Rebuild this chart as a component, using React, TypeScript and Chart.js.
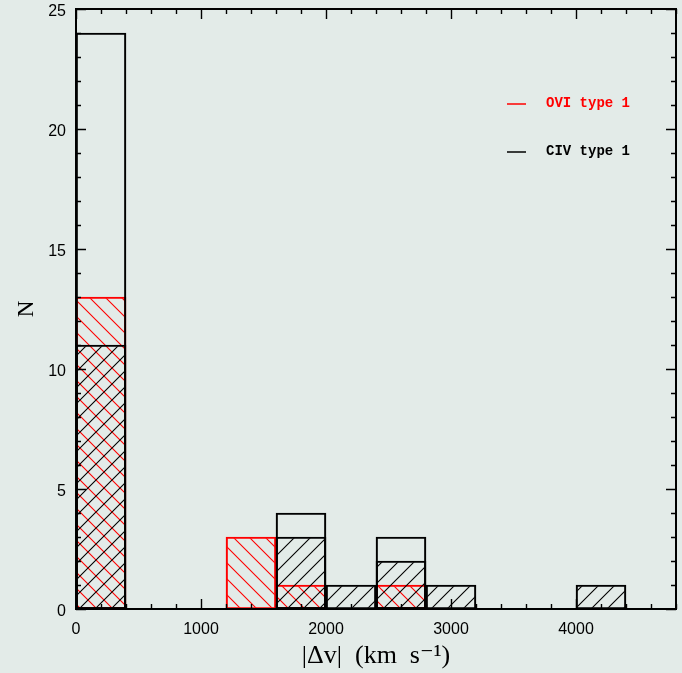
import React, { useEffect, useRef } from "react";
import { Chart, registerables } from "chart.js";

Chart.register(...registerables);

// Histogram bins (bin centres, km/s; bin width 400)
const civBins = [200, 1800, 2600];
const civCounts = [24, 4, 3];
const civHatchBins = [200, 1800, 2200, 2600, 3000, 4200];
const civHatchCounts = [11, 3, 1, 2, 1, 1];
const oviBins = [200, 1400, 1800, 2600];
const oviCounts = [13, 3, 1, 1];

const xTickValues = [0, 1000, 2000, 3000, 4000];
const yTickValues = [0, 5, 10, 15, 20, 25];
const legendLabels = ["OVI type 1", "CIV type 1"];
const legendColors = ["#ff0000", "#000000"];

const BG = "#e3ebe8";

function makeHatch(color: string, dir: "/" | "\\", size: number, lw: number) {
  const c = document.createElement("canvas");
  c.width = size;
  c.height = size;
  const g = c.getContext("2d")!;
  g.strokeStyle = color;
  g.lineWidth = lw;
  g.beginPath();
  if (dir === "/") {
    g.moveTo(-1, size + 1);
    g.lineTo(size + 1, -1);
    g.moveTo(-2, 2);
    g.lineTo(2, -2);
    g.moveTo(size - 2, size + 2);
    g.lineTo(size + 2, size - 2);
  } else {
    g.moveTo(-1, -1);
    g.lineTo(size + 1, size + 1);
    g.moveTo(-2, size - 2);
    g.lineTo(2, size + 2);
    g.moveTo(size - 2, -2);
    g.lineTo(size + 2, 2);
  }
  g.stroke();
  return g.createPattern(c, "repeat")!;
}

const axesPlugin = {
  id: "boxAxes",
  afterDatasetsDraw(chart: any) {
    const { ctx, chartArea, scales } = chart;
    const { left, right, top, bottom } = chartArea;
    const xs = scales.x;
    const ys = scales.y;
    ctx.save();
    ctx.strokeStyle = "#000";
    ctx.lineWidth = 1.4;
    ctx.beginPath();
    for (let v = 0; v <= 4800; v += 200) {
      const px = Math.round(xs.getPixelForValue(v)) + 0.5;
      const len = v % 1000 === 0 ? 10 : 5;
      ctx.moveTo(px, bottom);
      ctx.lineTo(px, bottom - len);
      ctx.moveTo(px, top);
      ctx.lineTo(px, top + len);
    }
    for (let v = 0; v <= 25; v += 1) {
      const py = Math.round(ys.getPixelForValue(v)) + 0.5;
      const len = v % 5 === 0 ? 10 : 5;
      ctx.moveTo(left, py);
      ctx.lineTo(left + len, py);
      ctx.moveTo(right, py);
      ctx.lineTo(right - len, py);
    }
    ctx.stroke();
    ctx.lineWidth = 2;
    ctx.strokeRect(left, top, right - left, bottom - top);
    // legend
    const lx0 = left + 431;
    const ly = [top + 94, top + 142];
    ctx.font = "bold 14px 'Liberation Mono', monospace";
    ctx.textBaseline = "middle";
    ctx.textAlign = "left";
    legendLabels.forEach((lab, i) => {
      ctx.strokeStyle = legendColors[i];
      ctx.lineWidth = 1.5;
      ctx.beginPath();
      ctx.moveTo(lx0, ly[i] + 1);
      ctx.lineTo(lx0 + 19, ly[i] + 1);
      ctx.stroke();
      ctx.fillStyle = legendColors[i];
      ctx.fillText(lab, lx0 + 39, ly[i]);
    });
    ctx.restore();
  },
};

export default function App() {
  const ref = useRef<HTMLCanvasElement>(null);
  useEffect(() => {
    document.body.style.background = BG;
    const redHatch = makeHatch("#ff0000", "\\", 16, 1.1);
    const blackHatch = makeHatch("#000000", "/", 16, 1.1);
    const toPts = (xs: number[], ys: number[]) => xs.map((x, i) => ({ x, y: ys[i] }));
    const barCommon = {
      borderWidth: 1.5,
      borderSkipped: false,
      grouped: false,
      barPercentage: 1,
      categoryPercentage: 1,
    };
    const chart = new Chart(ref.current!, {
      type: "bar",
      data: {
        datasets: [
          {
            label: "CIV type 1",
            data: toPts(civBins, civCounts),
            backgroundColor: "rgba(0,0,0,0)",
            borderColor: "#000",
            ...barCommon,
          } as any,
          {
            label: "CIV type 1 (hatched)",
            data: toPts(civHatchBins, civHatchCounts),
            backgroundColor: blackHatch,
            borderColor: "#000",
            ...barCommon,
          } as any,
          {
            label: "OVI type 1",
            data: toPts(oviBins, oviCounts),
            backgroundColor: redHatch,
            borderColor: "#ff0000",
            ...barCommon,
          } as any,
        ],
      },
      options: {
        animation: false,
        responsive: false,
        maintainAspectRatio: false,
        layout: { padding: { top: 9, right: 6, left: 0, bottom: 0 } },
        plugins: { legend: { display: false }, tooltip: { enabled: false } },
        scales: {
          x: {
            type: "linear",
            min: 0,
            max: 4800,
            offset: false,
            grid: { display: false, drawTicks: false },
            border: { display: false },
            afterFit: (s: any) => {
              s.height = 64;
              s.paddingLeft = 0;
              s.paddingRight = 0;
            },
            afterBuildTicks: (s: any) => {
              s.ticks = xTickValues.map((v) => ({ value: v }));
            },
            ticks: {
              padding: 11,
              color: "#000",
              font: { family: "'Liberation Sans', Arial, sans-serif", size: 16 },
              maxRotation: 0,
              callback: (v: any) => String(v),
            },
            title: {
              display: true,
              text: "|Δv|  (km  s⁻¹)",
              color: "#000",
              font: { family: "'Liberation Serif', 'DejaVu Serif', serif", size: 26 },
              padding: { top: 0, bottom: 1 },
            },
          },
          y: {
            type: "linear",
            min: 0,
            max: 25,
            grid: { display: false, drawTicks: false },
            border: { display: false },
            afterFit: (s: any) => {
              s.width = 76;
              s.paddingTop = 0;
              s.paddingBottom = 0;
            },
            afterBuildTicks: (s: any) => {
              s.ticks = yTickValues.map((v) => ({ value: v }));
            },
            ticks: {
              padding: 10,
              labelOffset: 3,
              color: "#000",
              font: { family: "'Liberation Sans', Arial, sans-serif", size: 16 },
              callback: (v: any) => String(v),
            },
            title: {
              display: true,
              text: "N",
              color: "#000",
              font: { family: "'Liberation Serif', 'DejaVu Serif', serif", size: 23 },
              padding: { top: 13, bottom: 0 },
            },
          },
        },
      } as any,
      plugins: [axesPlugin],
    });
    return () => chart.destroy();
  }, []);
  return (
    <div style={{ position: "fixed", left: 0, top: 0, width: 682, height: 673, background: BG }}>
      <canvas ref={ref} width={682} height={673} style={{ display: "block" }} />
    </div>
  );
}
